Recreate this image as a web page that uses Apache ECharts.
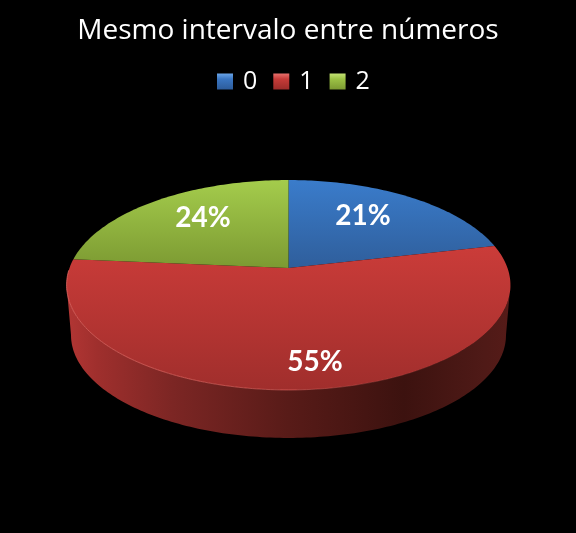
<!DOCTYPE html>
<html><head><meta charset="utf-8">
<style>html,body{margin:0;padding:0;background:#000}#c{width:576px;height:533px}</style>
<script src="https://cdn.jsdelivr.net/npm/echarts@6/dist/echarts.min.js"></script>
</head><body><div id="c"></div>
<script>
const titleText = 'Mesmo intervalo entre números';
const categories = ['0', '1', '2'];
const seriesValues = [21.4, 55, 23.6];
const total = seriesValues.reduce((a, b) => a + b, 0);

// perspective model of the disc
const APEX = [288.5, 268], A = 219, B = 102.2, K = 0.162, DEPTH = 50.4, BOTTOM_SCALE = 0.98;
const SIDE_FROM = 99.3, SIDE_TO = 260.7;
const project = (deg, r, s, dy) => {
  const t = deg * Math.PI / 180, u = Math.sin(t) * r, v = -Math.cos(t) * r, w = 1 - K * v;
  return [APEX[0] + s * A * u / w, APEX[1] + dy + s * B * v / w];
};
const rim = (a0, a1, s, dy) => {
  const n = Math.max(8, Math.ceil(Math.abs(a1 - a0))), pts = [];
  for (let i = 0; i <= n; i++) pts.push(project(a0 + (a1 - a0) * i / n, 1, s, dy));
  return pts;
};
const grad = (x0, y0, x1, y1, stops) => new echarts.graphic.LinearGradient(x0, y0, x1, y1,
  stops.map(([offset, color]) => ({ offset, color })), true);

const faceFill = [
  grad(0, 180, 0, 268, [[0, '#3a7ccb'], [1, '#2f5e9b']]),
  grad(0, 245, 0, 391, [[0, '#cb3c39'], [1, '#a02e2c']]),
  grad(0, 180, 0, 268, [[0, '#a4cc4c'], [1, '#7c9a32']])
];
const sideFill = grad(66, 0, 511, 0, [
  [0, '#b33634'], [0.07, '#9f2f2d'], [0.24, '#7c2624'], [0.5, '#581b18'],
  [0.76, '#3c120f'], [0.94, '#4f1a17'], [1, '#561b18']
]);
const rimStroke = grad(66, 0, 511, 0, [
  [0, 'rgba(238,110,105,0.7)'], [0.5, 'rgba(238,110,105,0.55)'], [0.85, 'rgba(200,80,75,0.12)'], [1, 'rgba(200,80,75,0)']
]);
const legendFill = [
  ['#6aa5e8', '#3a76c2', '#2d5c9b'],
  ['#e8706c', '#c63b38', '#9c2c2a'],
  ['#c4e274', '#9cc245', '#7c9a32']
];
const labelAt = [[363, 216], [315, 362], [203, 218]];

const makeSeries = idx => ({
  type: 'custom',
  name: categories[idx],
  coordinateSystem: 'none',
  silent: true,
  itemStyle: { color: faceFill[idx] },
  data: [[seriesValues[idx]]],
  renderItem: (params, api) => {
    const value = api.value(0);
    const before = seriesValues.slice(0, idx).reduce((a, b) => a + b, 0);
    const a0 = before / total * 360, a1 = a0 + value / total * 360;
    const children = [];
    const s0 = Math.max(a0, SIDE_FROM), s1 = Math.min(a1, SIDE_TO);
    if (s1 > s0) {
      children.push({
        type: 'polygon', z2: 1,
        shape: { points: rim(s0, s1, 1, 0).concat(rim(s1, s0, BOTTOM_SCALE, DEPTH)) },
        style: { fill: sideFill }
      });
      children.push({
        type: 'polyline', z2: 12,
        shape: { points: rim(s0, s1 + 8, 1, 0) },
        style: { stroke: rimStroke, lineWidth: 1, fill: null }
      });
    }
    children.push({
      type: 'polygon', z2: 10,
      shape: { points: [APEX].concat(rim(a0, a1, 1, 0)) },
      style: { fill: faceFill[idx] }
    });
    children.push({
      type: 'text', z2: 20,
      x: labelAt[idx][0], y: labelAt[idx][1],
      style: {
        text: Math.round(value / total * 100) + '%',
        fill: '#fff', font: 'bold 28px Lato', align: 'center', verticalAlign: 'middle'
      }
    });
    return { type: 'group', children };
  }
});

const chart = echarts.init(document.getElementById('c'), null, { renderer: 'canvas' });
chart.setOption({
  animation: false,
  backgroundColor: '#000',
  title: {
    text: titleText, left: 'center', top: 12,
    textStyle: { color: '#fff', fontFamily: 'Open Sans', fontWeight: 'normal', fontSize: 28 }
  },
  legend: {
    top: 64, left: 212, icon: 'rect', itemWidth: 16, itemHeight: 16, itemGap: 16,
    selectedMode: false,
    textStyle: { color: '#fff', fontFamily: 'Open Sans', fontSize: 25, padding: [0, 0, 0, 5] },
    data: categories.map((name, i) => ({
      name,
      itemStyle: {
        color: new echarts.graphic.LinearGradient(0, 0, 0, 1, [
          { offset: 0, color: legendFill[i][0] },
          { offset: 0.35, color: legendFill[i][1] },
          { offset: 1, color: legendFill[i][2] }
        ])
      }
    }))
  },
  series: categories.map((_, i) => makeSeries(i))
});
</script></body></html>
